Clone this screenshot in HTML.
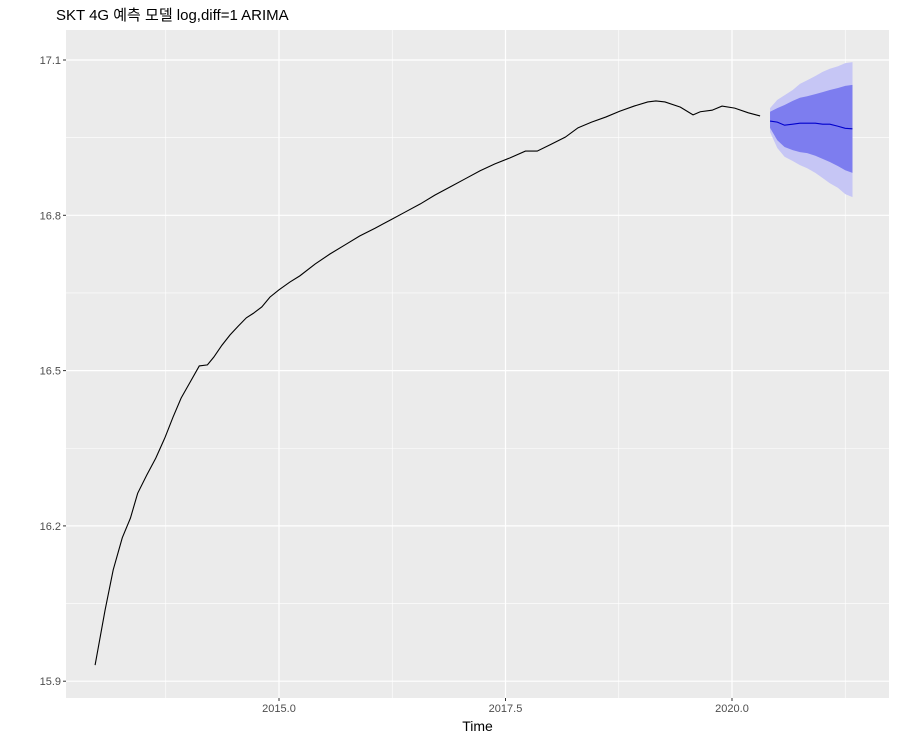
<!DOCTYPE html>
<html><head><meta charset="utf-8"><style>
body{margin:0;background:#fff;}
svg{display:block;font-family:"Liberation Sans","Noto Sans CJK KR",sans-serif;}
</style></head><body>
<svg id="chart" width="898" height="741"></svg>
<script>
const histTimes=[2012.97,2013.08,2013.17,2013.27,2013.36,2013.44,2013.54,2013.64,2013.74,2013.83,2013.92,2014.02,2014.12,2014.21,2014.28,2014.37,2014.46,2014.55,2014.64,2014.72,2014.81,2014.90,2015.0,2015.12,2015.23,2015.40,2015.56,2015.73,2015.89,2016.06,2016.23,2016.39,2016.56,2016.72,2016.89,2017.05,2017.22,2017.38,2017.55,2017.72,2017.85,2017.99,2018.16,2018.30,2018.45,2018.61,2018.76,2018.92,2019.07,2019.16,2019.26,2019.43,2019.57,2019.65,2019.78,2019.89,2020.03,2020.18,2020.31];
const histValues=[15.931,16.037,16.115,16.177,16.215,16.263,16.298,16.331,16.370,16.410,16.447,16.478,16.509,16.511,16.526,16.549,16.569,16.586,16.602,16.611,16.623,16.642,16.656,16.671,16.683,16.706,16.725,16.743,16.760,16.775,16.791,16.806,16.822,16.839,16.855,16.870,16.886,16.899,16.911,16.924,16.924,16.936,16.951,16.969,16.980,16.990,17.001,17.011,17.019,17.021,17.019,17.009,16.994,17.000,17.003,17.011,17.007,16.998,16.992];
const fcTimes=[2020.42,2020.5,2020.58,2020.67,2020.75,2020.83,2020.92,2021.0,2021.08,2021.17,2021.25,2021.33];
const fcMean=[16.982,16.980,16.974,16.976,16.978,16.978,16.978,16.976,16.976,16.972,16.968,16.967];
const hi80=[17.000,17.007,17.013,17.021,17.027,17.030,17.034,17.038,17.042,17.046,17.050,17.052];
const lo80=[16.969,16.945,16.932,16.926,16.922,16.920,16.915,16.909,16.903,16.895,16.887,16.882];
const hi95=[17.007,17.023,17.032,17.042,17.054,17.061,17.069,17.077,17.083,17.088,17.094,17.096];
const lo95=[16.961,16.930,16.913,16.905,16.897,16.891,16.882,16.872,16.862,16.853,16.841,16.835];
const yTicks=[15.9,16.2,16.5,16.8,17.1];
const xTicks=[2015.0,2017.5,2020.0];

const NS='http://www.w3.org/2000/svg';
const svg=document.getElementById('chart');
const L=66,R=889,T=30,B=698;
const xs=t=>279+(t-2015)*90.6;
const ys=v=>60+(17.1-v)/0.3*155.3;
function mk(tag,attrs,parent){const e=document.createElementNS(NS,tag);for(const k in attrs)e.setAttribute(k,attrs[k]);(parent||svg).appendChild(e);return e;}

const panel=mk('rect',{x:L,y:T,width:R-L,height:B-T,fill:'#ebebeb'});


// minor grid
for(let i=0;i<yTicks.length-1;i++){const v=(yTicks[i]+yTicks[i+1])/2;const g=mk('line',{x1:L,x2:R,y1:ys(v),y2:ys(v),stroke:'#fff','stroke-width':0.6});}
[2013.75,2016.25,2018.75,2021.25].forEach(t=>{const g=mk('line',{x1:xs(t),x2:xs(t),y1:T,y2:B,stroke:'#fff','stroke-width':0.6});});
yTicks.forEach(v=>{const g=mk('line',{x1:L,x2:R,y1:ys(v),y2:ys(v),stroke:'#fff','stroke-width':1.2});
 const tk=mk('line',{x1:L-3,x2:L,y1:ys(v),y2:ys(v),stroke:'#333'});
 const tx=mk('text',{x:L-5,y:ys(v)+4,'text-anchor':'end','font-size':11,fill:'#4d4d4d'});tx.textContent=v.toFixed(1);});
xTicks.forEach(t=>{const g=mk('line',{x1:xs(t),x2:xs(t),y1:T,y2:B,stroke:'#fff','stroke-width':1.2});
 const tk=mk('line',{x1:xs(t),x2:xs(t),y1:B,y2:B+3,stroke:'#333'});
 const tx=mk('text',{x:xs(t),y:B+14,'text-anchor':'middle','font-size':11,fill:'#4d4d4d'});tx.textContent=t.toFixed(1);});

function band(hi,lo,fill,name){let d='M'+fcTimes.map((t,i)=>xs(t)+','+ys(hi[i])).join('L');for(let i=fcTimes.length-1;i>=0;i--)d+='L'+xs(fcTimes[i])+','+ys(lo[i]);d+='Z';const p=mk('path',{d:d,fill:fill});}
band(hi95,lo95,'#c6c6f5','band-95');
band(hi80,lo80,'#7d7def','band-80');
const hl=mk('polyline',{points:histTimes.map((t,i)=>xs(t)+','+ys(histValues[i])).join(' '),fill:'none',stroke:'#000','stroke-width':1.1});

const fl=mk('polyline',{points:fcTimes.map((t,i)=>xs(t)+','+ys(fcMean[i])).join(' '),fill:'none',stroke:'#0000cc','stroke-width':1.1});


const title=mk('text',{x:56,y:20,'font-size':15,fill:'#000'});title.textContent='SKT 4G 예측 모델 log,diff=1 ARIMA';

const xl=mk('text',{x:(L+R)/2,y:731,'text-anchor':'middle','font-size':14,fill:'#000'});xl.textContent='Time';

</script>
</body></html>
